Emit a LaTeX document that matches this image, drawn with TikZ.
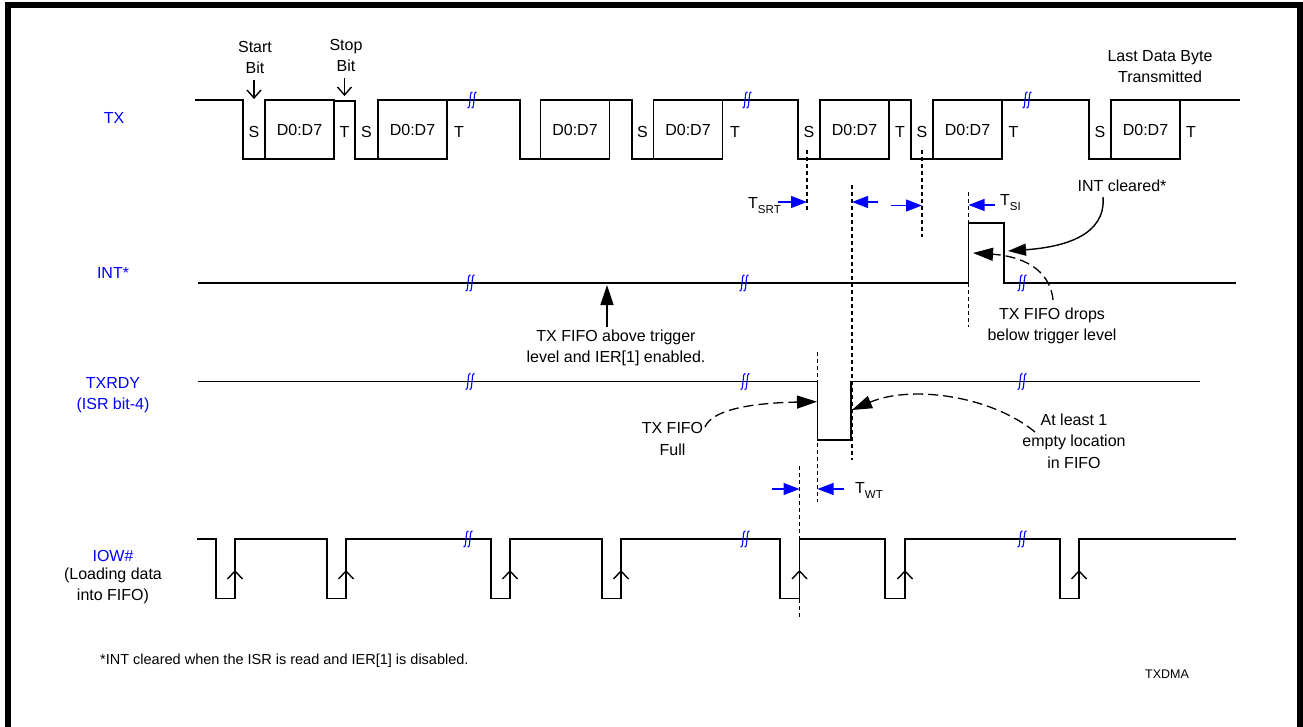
\documentclass[tikz,border=0pt]{standalone}
\usepackage{fontspec}
\setmainfont{Liberation Sans}
\usetikzlibrary{arrows.meta}
\newcommand\fsm{\fontsize{16}{21.5}\selectfont}
\newcommand\fss{\fontsize{11.5}{12}\selectfont}
\newcommand\fsf{\fontsize{14.5}{17}\selectfont}
\newcommand\fst{\fontsize{12.5}{14}\selectfont}
\tikzset{
  sig/.style={line width=1.6pt, line join=miter},
  dbox/.style={draw, line width=1.6pt, minimum width=69pt, minimum height=59pt, inner sep=0pt, font=\fsm},
  txt/.style={font=\fsm, inner sep=0pt, align=center},
  lab/.style={font=\fsm, inner sep=0pt, align=center, text=blue},
  vdash/.style={line width=1.2pt, dash pattern=on 4pt off 3pt},
  barrow/.style={blue, line width=1.2pt, -{Triangle[length=16pt,width=12pt]}},
  karrow/.style={black, line width=1.4pt, -{Triangle[length=20pt,width=13pt]}},
  dcurve/.style={black, line width=1.3pt, dash pattern=on 10pt off 5pt, -{Triangle[length=20pt,width=13pt]}},
  chev/.style={line width=1.4pt},
  brk/.pic={\draw[blue, line width=1.1pt] (-4.5,8) .. controls (-2,9) and (-2.5,2) .. (-2,0) .. controls (-1.5,-2) and (-2,-9) .. (0.5,-8);
            \draw[blue, line width=1.1pt] (-0.5,8) .. controls (2,9) and (1.5,2) .. (2,0) .. controls (2.5,-2) and (2,-9) .. (4.5,-8);}
}
\begin{document}
\begin{tikzpicture}[x=1pt,y=-1pt]
\useasboundingbox (0,0) rectangle (1303,727);
% frame
\draw[line width=6pt] (8,740) -- (8,5.5) -- (1300,5.5) -- (1300,740);

% ---------- labels on the left
\node[lab] (ltx) at (114,118) {TX};
\node[lab] (lint) at (113,273) {INT*};
\node[lab] (lrdy) at (113,395) {TXRDY\\(ISR bit-4)};
\node[lab] (liow) at (113,556) {IOW\#};
\node[txt] (lload) at (113,586) {(Loading data\\into FIFO)};

% ---------- TX
\node[txt] (start) at (255,57.5) {Start\\Bit};
\node[txt] (stop) at (346,55.5) {Stop\\Bit};
\node[txt] (last) at (1160,66.5) {Last Data Byte\\Transmitted};
\draw[chev] (254,80) -- (254,98); \draw[chev] (247,90) -- (254,98) -- (261,90);
\draw[chev] (344.5,78) -- (344.5,95); \draw[chev] (337.5,87) -- (344.5,95) -- (351.5,87);

\draw[sig] (195,100) -- (243,100) -- (243,159) -- (265,159);
\node[dbox] (b1) at (299.5,129.5) {D0:D7};
\draw[sig] (334,101) -- (355,101) -- (355,159) -- (378,159);
\node[dbox] (b2) at (412.5,129.5) {D0:D7};
\draw[sig] (447,100) -- (520,100) -- (520,159) -- (540,159);
\node[dbox] (b3) at (575,129.5) {D0:D7};
\draw[sig] (610,100) -- (632,100) -- (632,159) -- (653,159);
\node[dbox] (b4) at (688,129.5) {D0:D7};
\draw[sig] (723,100) -- (798,100) -- (798,159) -- (820,159);
\node[dbox] (b5) at (854.5,129.5) {D0:D7};
\draw[sig] (889,100) -- (911,100) -- (911,159) -- (933,159);
\node[dbox] (b6) at (967.5,129.5) {D0:D7};
\draw[sig] (1002,100) -- (1089,100) -- (1089,159) -- (1111,159);
\node[dbox] (b7) at (1145.5,129.5) {D0:D7};
\draw[sig] (1180,100) -- (1240,100);

\foreach \x/\n in {254/s1,366.5/s2,642.5/s3,809/s4,922/s5,1100/s6}
  \node[txt] (\n) at (\x,132) {S};
\foreach \x/\n in {344.5/t1,459/t2,735/t3,900/t4,1013.5/t5,1191/t6}
  \node[txt] (\n) at (\x,132) {T};
\foreach \x in {472,747,1027} \pic at (\x,100) {brk};

% ---------- timing marks
\draw[vdash] (807,150) -- (807,212);
\draw[vdash] (922,150) -- (922,237);
\draw[vdash] (852,185) -- (852,460);
\draw[vdash] (968.5,192) -- (968.5,327);
\draw[vdash] (817.5,352) -- (817.5,502);
\draw[vdash] (799.5,466) -- (799.5,619);

\node[txt, anchor=base west] (tsrt) at (748,208.5) {T\raisebox{-5pt}{\fss SRT}};
\coordinate (a1s) at (778,202); \coordinate (a1e) at (807,202);
\draw[barrow] (a1s) -- (a1e);
\coordinate (a2s) at (878,202); \coordinate (a2e) at (852,202);
\draw[barrow] (a2s) -- (a2e);
\coordinate (a3s) at (891,205.5); \coordinate (a3e) at (922,205.5);
\draw[barrow] (a3s) -- (a3e);
\coordinate (a4s) at (995,205); \coordinate (a4e) at (968.5,205);
\draw[barrow] (a4s) -- (a4e);
\node[txt, anchor=base west] (tsi) at (1000,205.5) {T\raisebox{-5pt}{\fss SI}};

% ---------- INT
\draw[sig] (198,283) -- (968.5,283) -- (968.5,223) -- (1004,223) -- (1004,283) -- (1236,283);
\foreach \x in {470,744,1022} \pic at (\x,283) {brk};
\coordinate (aup0) at (607,327); \coordinate (aup1) at (607,285);
\draw[karrow] (aup0) -- (aup1);
\node[txt] (above) at (616,348) {TX FIFO above trigger\\level and IER[1] enabled.};
\node[txt] (intc) at (1122,186) {INT cleared*};
\draw[black, line width=1.4pt, -{Triangle[length=18pt,width=12pt]}] (1103,197) .. controls (1106,235) and (1065,247) .. (1008,251);
\node[txt] (drops) at (1052,326) {TX FIFO drops\\below trigger level};
\draw[dcurve] (1053,300) .. controls (1050,268) and (1020,256) .. (973,253);

% ---------- TXRDY
\draw[sig] (198,381.5) -- (817.5,381.5) -- (817.5,440) -- (851,440) -- (851,381.5) -- (1200,381.5);
\foreach \x in {470,745,1022} \pic at (\x,381.5) {brk};
\node[txt] (full) at (672.5,439) {TX FIFO\\Full};
\draw[dcurve] (705,427) .. controls (712,410) and (750,403) .. (817,401.7);
\node[txt] (least) at (1074,441) {At least 1\\empty location\\in FIFO};
\draw[dcurve] (1035,432) .. controls (990,395) and (910,385) .. (852,410);

% T_WT
\coordinate (w1s) at (771.5,489); \coordinate (w1e) at (799.5,489);
\draw[barrow] (w1s) -- (w1e);
\coordinate (w2s) at (843.5,489); \coordinate (w2e) at (817.5,489);
\draw[barrow] (w2s) -- (w2e);
\node[txt, anchor=base west] (twt) at (855,493.5) {T\raisebox{-5pt}{\fss WT}};

% ---------- IOW
\draw[sig] (197,539)
  -- (216,539) -- (216,598.5) -- (235,598.5) -- (235,539)
  -- (327,539) -- (327,598.5) -- (346,598.5) -- (346,539)
  -- (491,539) -- (491,598.5) -- (510,598.5) -- (510,539)
  -- (602,539) -- (602,598.5) -- (621,598.5) -- (621,539)
  -- (780,539) -- (780,598.5) -- (799.5,598.5) -- (799.5,539)
  -- (885,539) -- (885,598.5) -- (905,598.5) -- (905,539)
  -- (1060,539) -- (1060,598.5) -- (1079,598.5) -- (1079,539)
  -- (1236,539);
\foreach \x in {235,346,510,621,799.5,905,1079}
  \draw[chev] (\x-7.5,579) -- (\x,571) -- (\x+7.5,579);
\foreach \x in {468,745,1022} \pic at (\x,539) {brk};

% ---------- footer
\node[font=\fsf, inner sep=0pt, anchor=west] (foot) at (100,661) {*INT cleared when the ISR is read and IER[1] is disabled.};
\node[font=\fst, inner sep=0pt] (txdma) at (1167,674) {TXDMA};
\end{tikzpicture}
\end{document}
